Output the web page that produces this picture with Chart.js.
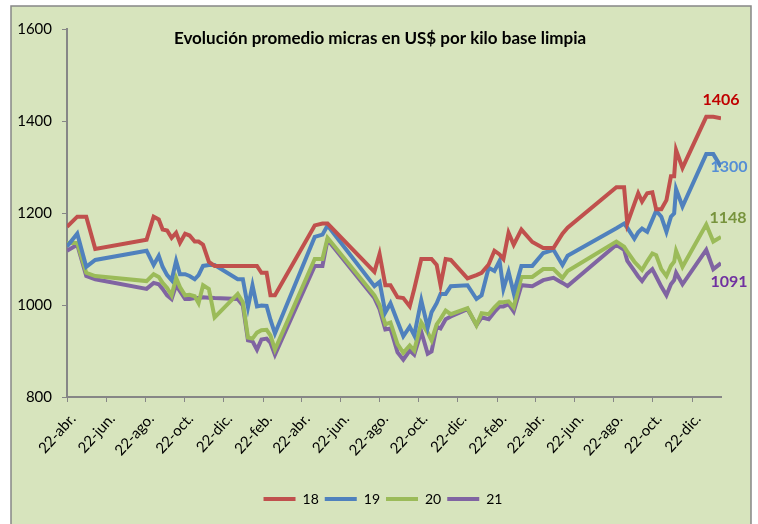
<!DOCTYPE html>
<html>
<head>
<meta charset="utf-8">
<script src="https://cdn.jsdelivr.net/npm/chart.js@4.4.1/dist/chart.umd.min.js"></script>
<style>
  html, body { margin: 0; padding: 0; background: #fff; }
</style>
</head>
<body>
<canvas id="myChart" width="758" height="524"></canvas>
<script>
const ctx = document.getElementById("myChart").getContext("2d");

const FONT = "Lato, 'Liberation Sans', sans-serif";

const chartTitle = "Evolución promedio micras en US$ por kilo base limpia";

// days counted from the first 22-abr.
const days = [0, 16, 30, 44, 124, 135, 143, 149, 156, 163, 170, 176, 184, 191, 199, 205, 212, 221, 230,
      266, 274, 282, 289, 296, 303, 311, 317, 324, 386, 398, 406, 479, 487, 496, 504, 515, 524, 534, 541,
      552, 562, 568, 576, 582, 590, 598, 624, 638, 646, 657, 666, 674, 680, 688, 696, 708, 725, 742, 758,
      772, 780, 856, 868, 873, 884, 890, 896, 904, 912, 918, 926, 934, 941, 946, 949, 959, 996, 1007, 1019];

const micras18 = [1170, 1192, 1192, 1122, 1142, 1192, 1186, 1164, 1162, 1146, 1157, 1135, 1155, 1151, 1138, 1138, 1131, 1094, 1085,
      1085, 1085, 1085, 1085, 1085, 1070, 1070, 1021, 1021, 1173, 1177, 1177, 1072, 1111, 1043, 1043, 1017, 1015, 997, 1035,
      1100, 1100, 1100, 1087, 1043, 1100, 1098, 1058, 1065, 1070, 1088, 1118, 1110, 1100, 1157, 1131, 1164, 1137, 1124, 1124,
      1155, 1168, 1256, 1256, 1177, 1220, 1243, 1225, 1243, 1245, 1208, 1208, 1228, 1280, 1280, 1337, 1298, 1409, 1409, 1406];

const micras19 = [1127, 1155, 1083, 1098, 1118, 1087, 1107, 1083, 1065, 1054, 1096, 1067, 1067, 1063, 1056, 1065, 1085, 1087, 1087,
      1056, 1056, 995, 1043, 997, 999, 998, 968, 938, 1148, 1153, 1173, 1041, 1050, 984, 1004, 964, 932, 953, 934,
      1010, 951, 984, 1004, 1024, 1024, 1041, 1043, 1013, 1021, 1081, 1074, 1096, 1035, 1072, 1026, 1085, 1085, 1113, 1120,
      1087, 1107, 1167, 1177, 1168, 1144, 1158, 1166, 1159, 1185, 1205, 1192, 1159, 1192, 1199, 1252, 1214, 1328, 1328, 1300];

const micras20 = [1135, 1135, 1070, 1063, 1052, 1067, 1061, 1048, 1037, 1021, 1059, 1039, 1021, 1022, 1019, 1004, 1043, 1035, 973,
      1024, 1006, 929, 927, 940, 945, 946, 934, 903, 1100, 1100, 1146, 1021, 1000, 958, 962, 915, 896, 912, 901,
      962, 940, 923, 958, 970, 988, 980, 993, 956, 982, 980, 995, 1006, 1006, 1008, 995, 1061, 1061, 1078, 1078,
      1059, 1074, 1138, 1127, 1116, 1094, 1085, 1076, 1095, 1112, 1108, 1078, 1063, 1085, 1094, 1118, 1083, 1175, 1138, 1148];

const micras21 = [1118, 1131, 1063, 1056, 1035, 1048, 1045, 1035, 1021, 1013, 1043, 1030, 1013, 1013, 1015, 1015, 1017, 1016, 1015,
      1013, 999, 923, 921, 903, 925, 927, 918, 892, 1085, 1085, 1142, 1015, 991, 947, 949, 897, 881, 901, 892,
      942, 894, 899, 953, 949, 969, 975, 991, 956, 973, 969, 985, 997, 997, 1002, 986, 1043, 1041, 1054, 1059,
      1048, 1041, 1131, 1120, 1096, 1074, 1062, 1052, 1068, 1078, 1062, 1040, 1021, 1045, 1054, 1070, 1045, 1120, 1078, 1091];

const tickDays = [0, 61, 122, 183, 244, 306, 365, 426, 487, 548, 609, 671, 730, 791, 852, 913, 974];
const tickLabels = ["22-abr.", "22-jun.", "22-ago.", "22-oct.", "22-dic.", "22-feb.", "22-abr.", "22-jun.", "22-ago.",
      "22-oct.", "22-dic.", "22-feb.", "22-abr.", "22-jun.", "22-ago.", "22-oct.", "22-dic."];

const yTicks = [800, 1000, 1200, 1400, 1600];

const toPoints = (values) => values.map((v, i) => ({ x: days[i], y: v }));

// where the last value of each line is written, relative to its last point
const endLabels = [
      { color: "#c00000", dx: 0, dy: -18 },
      { color: "#558ed5", dx: 8, dy: 0 },
      { color: "#77933c", dx: 7, dy: -19 },
      { color: "#7030a0", dx: 8, dy: 19 },
];

const background = {
      id: "background",
      beforeDraw(chart) {
            const c = chart.ctx;
            c.save();
            c.fillStyle = "#ffffff";
            c.fillRect(0, 0, chart.width, chart.height);
            c.fillStyle = "#d7e4bd";
            c.fillRect(11, 6, 740, 530);
            c.strokeStyle = "#878787";
            c.lineWidth = 1.5;
            c.strokeRect(11, 6, 740, 530);
            c.restore();
      },
};

// legend sits a bit right of the centre of the whole chart
const legendShift = {
      id: "legendShift",
      afterLayout(chart) {
            chart.legend.left += 17;
            chart.legend.right += 17;
      },
};

const decorations = {
      id: "decorations",
      afterDatasetsDraw(chart) {
            const c = chart.ctx;
            c.save();
            c.fillStyle = "#000";
            c.font = "bold 17px " + FONT;
            c.textAlign = "center";
            c.textBaseline = "middle";
            c.fillText(chartTitle, 380, 39);

            c.font = "bold 16px " + FONT;
            chart.data.datasets.forEach((ds, i) => {
                  const meta = chart.getDatasetMeta(i);
                  const pt = meta.data[meta.data.length - 1];
                  const last = ds.data[ds.data.length - 1].y;
                  c.fillStyle = endLabels[i].color;
                  c.fillText(String(last), pt.x + endLabels[i].dx, pt.y + endLabels[i].dy);
            });
            c.restore();
      },
};

const lineSet = (label, values, color) => ({
      label,
      data: toPoints(values),
      borderColor: color,
      backgroundColor: color,
      borderWidth: 4,
      pointRadius: 0,
      tension: 0,
      fill: false,
});

const config = {
      type: "line",
      data: {
            datasets: [
                  lineSet("18", micras18, "#c0504d"),
                  lineSet("19", micras19, "#4f81bd"),
                  lineSet("20", micras20, "#9bbb59"),
                  lineSet("21", micras21, "#8064a2"),
            ],
      },
      plugins: [background, legendShift, decorations],
      options: {
            responsive: false,
            animation: false,
            layout: { padding: { left: 11, right: 37, top: 29, bottom: 8 } },
            plugins: {
                  title: { display: false },
                  tooltip: { enabled: false },
                  legend: {
                        position: "bottom",
                        labels: {
                              usePointStyle: true,
                              pointStyle: "line",
                              pointStyleWidth: 32,
                              padding: 6,
                              color: "#000",
                              font: { family: FONT, size: 14 },
                        },
                  },
            },
            scales: {
                  x: {
                        type: "linear",
                        min: 0,
                        max: 1019,
                        afterBuildTicks: (scale) => {
                              scale.ticks = tickDays.map((v) => ({ value: v }));
                        },
                        afterFit: (scale) => {
                              scale.height = 89;
                        },
                        border: { display: true, color: "#868686", width: 2 },
                        grid: { drawOnChartArea: false, drawTicks: true, tickLength: 5, color: "#868686" },
                        ticks: {
                              autoSkip: false,
                              minRotation: 48,
                              maxRotation: 48,
                              padding: 8,
                              labelOffset: 6,
                              color: "#000",
                              font: { family: FONT, size: 15 },
                              callback: (value, index) => tickLabels[index],
                        },
                  },
                  y: {
                        min: 800,
                        max: 1600,
                        afterBuildTicks: (scale) => {
                              scale.ticks = yTicks.map((v) => ({ value: v }));
                        },
                        afterFit: (scale) => {
                              scale.width = 56;
                        },
                        border: { display: true, color: "#868686", width: 2 },
                        grid: { drawOnChartArea: false, drawTicks: true, tickLength: 5, color: "#868686" },
                        ticks: {
                              padding: 10,
                              color: "#000",
                              font: { family: FONT, size: 15 },
                              callback: (value) => String(value),
                        },
                  },
            },
      },
};

const myChart = new Chart(ctx, config);
</script>
</body>
</html>
